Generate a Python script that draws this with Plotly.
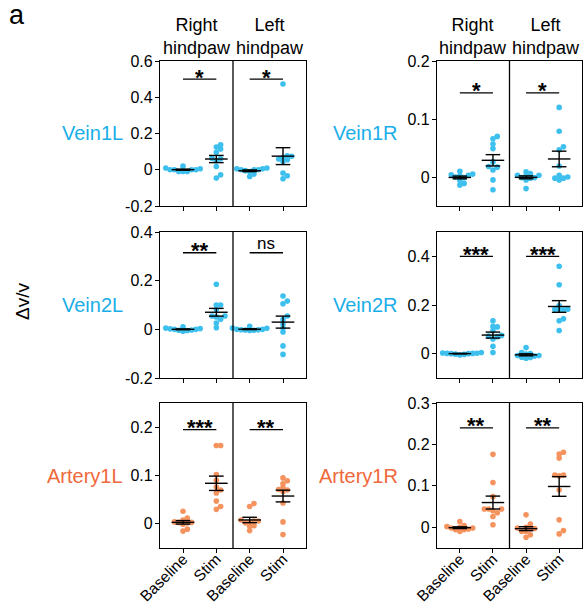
import plotly.graph_objects as go

# ---------------- data ----------------
categories = ["Baseline", "Stim", "Baseline", "Stim"]
col_headers = ["Right<br>hindpaw", "Left<br>hindpaw"]
panel_names = ["Vein1L", "Vein1R", "Vein2L", "Vein2R", "Artery1L", "Artery1R"]

vein1L_right_base = [0.0, -0.01, 0.0, 0.01, -0.01, 0.0, 0.02, -0.01, 0.0, 0.005]
vein1L_right_stim = [0.114, 0.125, 0.138, 0.096, 0.064, 0.061, 0.05, 0.018, -0.028, -0.046]
vein1L_left_base = [0.01, 0.005, 0.0, -0.005, -0.037, -0.024, 0.0, 0.005, -0.01, 0.0]
vein1L_left_stim = [0.473, 0.077, 0.068, 0.074, 0.059, 0.046, 0.055, -0.018, -0.033, -0.05]

vein1R_right_base = [0.01, 0.004, 0.005, 0.002, 0.003, -0.014, -0.011, -0.006, -0.001, 0.0]
vein1R_right_stim = [0.07, 0.066, 0.057, 0.049, 0.026, 0.018, 0.017, 0.012, -0.005, -0.022]
vein1R_left_base = [0.009, 0.006, 0.003, 0.002, 0.003, -0.002, -0.005, -0.001, -0.02, -0.001]
vein1R_left_stim = [0.12, 0.079, 0.052, 0.047, 0.019, 0.003, -0.005, 0.0, -0.002, -0.002]

vein2L_right_base = [0.01, 0.005, 0.0, -0.005, 0.003, -0.008, 0.0, 0.002, -0.003, -0.004]
vein2L_right_stim = [0.185, 0.1, 0.1, 0.082, 0.055, 0.055, 0.051, 0.041, 0.026, 0.007]
vein2L_left_base = [0.012, 0.005, 0.0, -0.002, 0.004, -0.005, -0.003, 0.0, -0.004, -0.002]
vein2L_left_stim = [0.137, 0.116, 0.105, 0.055, 0.04, 0.021, 0.005, -0.011, -0.068, -0.103]

vein2R_right_base = [0.005, 0.003, 0.0, -0.002, 0.002, -0.005, 0.001, 0.0, -0.003, 0.001]
vein2R_right_stim = [0.135, 0.112, 0.11, 0.095, 0.075, 0.072, 0.07, 0.06, 0.03, 0.005]
vein2R_left_base = [0.025, 0.005, 0.0, -0.01, -0.008, -0.016, -0.019, -0.008, -0.015, -0.002]
vein2R_left_stim = [0.359, 0.283, 0.198, 0.183, 0.183, 0.18, 0.18, 0.143, 0.135, 0.095]

artery1L_right_base = [0.026, 0.012, 0.008, 0.004, 0.003, 0.003, 0.002, -0.001, -0.011, -0.015]
artery1L_right_stim = [0.162, 0.162, 0.102, 0.09, 0.076, 0.07, 0.064, 0.047, 0.036, 0.03]
artery1L_left_base = [0.042, 0.036, 0.008, 0.006, 0.006, 0.003, 0.002, -0.004, -0.005, -0.014]
artery1L_left_stim = [0.095, 0.089, 0.083, 0.075, 0.071, 0.07, 0.067, 0.043, 0.004, -0.022]

artery1R_right_base = [0.014, 0.004, 0.002, 0.0, -0.004, -0.006, -0.006, -0.01, -0.002, -0.002]
artery1R_right_stim = [0.176, 0.108, 0.074, 0.044, 0.044, 0.044, 0.04, 0.035, 0.026, 0.006]
artery1R_left_base = [0.03, 0.008, -0.002, -0.003, 0.0, -0.004, -0.01, -0.01, -0.018, -0.024]
artery1R_left_stim = [0.177, 0.181, 0.167, 0.124, 0.126, 0.126, 0.09, 0.018, -0.008, -0.016]

# y ranges and ticks per panel
y_ranges = [[-0.2, 0.6], [-0.05, 0.2], [-0.2, 0.4], [-0.1, 0.5], [-0.05, 0.25], [-0.05, 0.3]]
y_tickvals = [[-0.2, 0, 0.2, 0.4, 0.6], [0, 0.1, 0.2], [-0.2, 0, 0.2, 0.4],
              [0, 0.2, 0.4], [0, 0.1, 0.2], [0, 0.1, 0.2, 0.3]]
y_ticktext = [["-0.2", "0", "0.2", "0.4", "0.6"], ["0", "0.1", "0.2"], ["-0.2", "0", "0.2", "0.4"],
              ["0", "0.2", "0.4"], ["0", "0.1", "0.2"], ["0", "0.1", "0.2", "0.3"]]
# significance labels (right hindpaw, left hindpaw) and bar heights
sig_labels = [["*", "*"], ["*", "*"], ["**", "ns"], ["***", "***"], ["***", "**"], ["**", "**"]]
sig_heights = [0.5, 0.145, 0.315, 0.4, 0.195, 0.24]

panels = [
    [vein1L_right_base, vein1L_right_stim, vein1L_left_base, vein1L_left_stim],
    [vein1R_right_base, vein1R_right_stim, vein1R_left_base, vein1R_left_stim],
    [vein2L_right_base, vein2L_right_stim, vein2L_left_base, vein2L_left_stim],
    [vein2R_right_base, vein2R_right_stim, vein2R_left_base, vein2R_left_stim],
    [artery1L_right_base, artery1L_right_stim, artery1L_left_base, artery1L_left_stim],
    [artery1R_right_base, artery1R_right_stim, artery1R_left_base, artery1R_left_stim],
]

# ---------------- styling ----------------
W, H = 583, 603
FONT = "Arial, Liberation Sans, sans-serif"
BLUE_DOT, BLUE_TXT = "#3ec0ee", "#1aaee8"
ORANGE_DOT, ORANGE_TXT = "#f5935f", "#f0693a"
dot_colors = [BLUE_DOT, BLUE_DOT, BLUE_DOT, BLUE_DOT, ORANGE_DOT, ORANGE_DOT]
txt_colors = [BLUE_TXT, BLUE_TXT, BLUE_TXT, BLUE_TXT, ORANGE_TXT, ORANGE_TXT]

col_px = [(160, 306), (437, 582)]
row_px = [(61, 206), (232, 378), (403, 548)]
XR = [-0.69, 3.69]


def swarm(vals, px_y, px_x, d=3.8, step=4.3):
    order = sorted(range(len(vals)), key=lambda i: vals[i])
    placed = []
    offs = [0.0] * len(vals)
    cands = [0]
    for k in range(1, 12):
        cands += [k, -k]
    for i in order:
        y = vals[i] * px_y
        for k in cands:
            x = k * step
            if all((x - px) ** 2 + (y - py) ** 2 >= d * d for px, py in placed):
                break
        placed.append((x, y))
        offs[i] = x / px_x
    return offs


def mean_sem(v):
    n = len(v)
    m = sum(v) / n
    var = sum((a - m) ** 2 for a in v) / (n - 1)
    return m, (var ** 0.5) / (n ** 0.5)


fig = go.Figure()
annotations = []
shapes = []
layout_axes = {}

for p, groups in enumerate(panels):
    r, c = divmod(p, 2)
    ax = p + 1
    xname = "x" if ax == 1 else f"x{ax}"
    yname = "y" if ax == 1 else f"y{ax}"
    x0, x1 = col_px[c]
    y0, y1 = row_px[r]
    xdom = [x0 / W, x1 / W]
    ydom = [1 - y1 / H, 1 - y0 / H]
    yr = y_ranges[p]
    px_y = (y1 - y0) / (yr[1] - yr[0])
    px_x = (x1 - x0) / (XR[1] - XR[0])

    for g, vals in enumerate(groups):
        offs = swarm(vals, px_y, px_x)
        fig.add_trace(go.Scatter(
            x=[g + o for o in offs], y=vals, mode="markers",
            marker=dict(size=5.6, color=dot_colors[p], line=dict(width=0)),
            xaxis=xname, yaxis=yname, showlegend=False, hoverinfo="skip"))
    for g, vals in enumerate(groups):
        m, s = mean_sem(vals)
        lx, cx = 0.34, 0.22
        xs = [g - lx, g + lx, None, g, g, None, g - cx, g + cx, None, g - cx, g + cx]
        ys = [m, m, None, m - s, m + s, None, m - s, m - s, None, m + s, m + s]
        fig.add_trace(go.Scatter(
            x=xs, y=ys, mode="lines", line=dict(color="black", width=1.4),
            xaxis=xname, yaxis=yname, showlegend=False, hoverinfo="skip"))

    # significance bars
    for h in range(2):
        bx = [2 * h, 2 * h + 1]
        yb = sig_heights[p]
        fig.add_trace(go.Scatter(
            x=bx, y=[yb, yb], mode="lines", line=dict(color="black", width=1.4),
            xaxis=xname, yaxis=yname, showlegend=False, hoverinfo="skip"))
        lab = sig_labels[p][h]
        if lab == "ns":
            annotations.append(dict(x=2 * h + 0.5, y=yb, xref=xname, yref=yname, text=lab,
                                    showarrow=False, yanchor="bottom", yshift=-2,
                                    font=dict(family=FONT, size=17, color="black")))
        else:
            annotations.append(dict(x=2 * h + 0.5, y=yb, xref=xname, yref=yname, text="<b>" + lab + "</b>",
                                    showarrow=False, yanchor="middle", yshift=2,
                                    font=dict(family=FONT, size=22, color="black")))

    # divider
    shapes.append(dict(type="line", xref=xname, yref=f"{yname} domain", x0=1.5, x1=1.5, y0=0, y1=1,
                       line=dict(color="black", width=1.3)))

    bottom = (r == 2)
    layout_axes["xaxis" if ax == 1 else f"xaxis{ax}"] = dict(
        domain=xdom, range=XR, anchor=yname, showgrid=False, zeroline=False, automargin=False,
        showline=True, mirror=True, linecolor="black", linewidth=1.3,
        ticks="outside", ticklen=4, tickwidth=1, tickcolor="black",
        tickvals=[0, 1, 2, 3], ticktext=categories, showticklabels=bottom,
        tickangle=-45, ticklabelstandoff=-9,
        tickfont=dict(family=FONT, size=15.5, color="black"))
    layout_axes["yaxis" if ax == 1 else f"yaxis{ax}"] = dict(
        domain=ydom, range=yr, anchor=xname, showgrid=False, zeroline=False, automargin=False,
        showline=True, mirror=True, linecolor="black", linewidth=1.3,
        ticks="outside", ticklen=4, tickwidth=1, tickcolor="black",
        tickvals=y_tickvals[p], ticktext=y_ticktext[p], ticklabelstandoff=-1,
        tickfont=dict(family=FONT, size=16, color="black"))

    # row label
    lab_x = (125 if c == 0 else 400) / W
    annotations.append(dict(x=lab_x, y=(ydom[0] + ydom[1]) / 2, xref="paper", yref="paper",
                            text=panel_names[p], showarrow=False, xanchor="right", yanchor="middle",
                            font=dict(family=FONT, size=20, color=txt_colors[p])))

# column headers
for c in range(2):
    x0, x1 = col_px[c]
    mid = (x0 + x1) / 2
    for h in range(2):
        cx = ((x0 + mid) / 2 if h == 0 else (mid + x1) / 2) / W
        annotations.append(dict(x=cx, y=1 - 61 / H, xref="paper", yref="paper",
                                text=col_headers[h], showarrow=False, xanchor="center",
                                yanchor="bottom", yshift=1,
                                font=dict(family=FONT, size=18, color="black")))

annotations.append(dict(x=22 / W, y=1 - 302 / H, xref="paper", yref="paper", text="Δv/v",
                        showarrow=False, textangle=-90, xanchor="center", yanchor="middle",
                        font=dict(family=FONT, size=19, color="black")))
annotations.append(dict(x=17 / W, y=1 - 15 / H, xref="paper", yref="paper", text="a",
                        showarrow=False, xanchor="center", yanchor="middle",
                        font=dict(family=FONT, size=27, color="black")))

fig.update_layout(width=W, height=H, autosize=False, margin=dict(l=0, r=0, t=0, b=0, pad=0),
                  paper_bgcolor="white", plot_bgcolor="white",
                  annotations=annotations, shapes=shapes, **layout_axes)

fig.write_html("out.html", config={"displayModeBar": False},
               post_script="document.body.style.margin='0';document.body.style.overflow='hidden';")
